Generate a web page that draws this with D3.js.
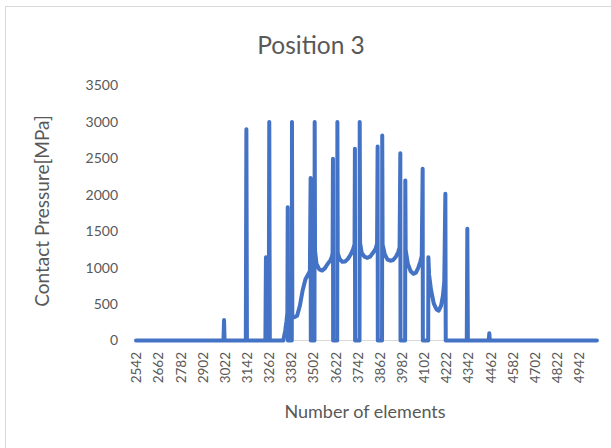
<!DOCTYPE html>
<html>
<head>
<meta charset="utf-8">
<script src="https://cdn.jsdelivr.net/npm/d3@7"></script>
<style>
  html, body { margin: 0; padding: 0; background: #ffffff; }
  svg { display: block; }
  text { font-family: Lato, "Open Sans", sans-serif; fill: #595959; }
</style>
</head>
<body>
<svg id="chart" width="611" height="448"></svg>
<script>
// Contact pressure along the element numbering (position 3)
const elements = [
  2542, 3016, 3019, 3022, 3137, 3140, 3143,
  3243, 3246, 3250, 3261, 3264, 3267,
  3340, 3350, 3357, 3362, 3364, 3365, 3386, 3387,
  3389, 3400, 3415, 3430, 3445, 3460, 3475, 3484, 3488, 3489, 3509, 3510,
  3512, 3520, 3535, 3550, 3565, 3580, 3595, 3603, 3607, 3609, 3610, 3632, 3633,
  3635, 3645, 3660, 3675, 3690, 3705, 3718, 3726, 3728, 3729, 3753, 3754,
  3756, 3765, 3780, 3795, 3810, 3825, 3840, 3848, 3851, 3852, 3875, 3876,
  3878, 3890, 3905, 3920, 3935, 3950, 3962, 3970, 3974, 3975, 4000, 4001,
  4003, 4015, 4030, 4045, 4058, 4070, 4082, 4090, 4095, 4096, 4125, 4126,
  4130, 4140, 4155, 4170, 4182, 4195, 4205, 4212, 4218, 4220,
  4334, 4337, 4340, 4453, 4456, 4459, 5039
];
const pressure = [
  0, 0, 280, 0, 0, 2900, 0,
  0, 1143, 0, 0, 3000, 0,
  0, 130, 260, 380, 1830, 0, 0, 3000,
  330, 320, 340, 480, 690, 840, 910, 950, 2230, 0, 0, 3000,
  1230, 1050, 975, 960, 990, 1050, 1100, 1150, 1200, 2494, 0, 0, 3000,
  1200, 1120, 1080, 1085, 1120, 1180, 1250, 1320, 2631, 0, 0, 3000,
  1340, 1200, 1150, 1135, 1150, 1200, 1260, 1330, 2663, 0, 0, 2813,
  1320, 1180, 1110, 1095, 1105, 1150, 1210, 1280, 2571, 0, 0, 2196,
  1240, 1050, 950, 915, 930, 990, 1080, 1160, 2356, 0, 0, 1143,
  900, 700, 510, 425, 410, 480, 620, 800, 2013, 0,
  0, 1533, 0, 0, 100, 0, 0
];
const xTickLabels = [2542, 2662, 2782, 2902, 3022, 3142, 3262, 3382, 3502, 3622,
  3742, 3862, 3982, 4102, 4222, 4342, 4462, 4582, 4702, 4822, 4942];
const yTicks = [0, 500, 1000, 1500, 2000, 2500, 3000, 3500];

const chartTitle = "Position 3";
const yTitle = "Contact Pressure[MPa]";
const xTitle = "Number of elements";

const svg = d3.select("#chart");

// chart area frame
svg.append("rect")
  .attr("x", 5.5).attr("y", 6.5)
  .attr("width", 620).attr("height", 460)
  .attr("fill", "#ffffff")
  .attr("stroke", "#d9d9d9").attr("stroke-width", 1);

const x = d3.scaleLinear().domain([2542, 4942]).range([136, 579]);
const y = d3.scaleLinear().domain([0, 3500]).range([340.5, 85.5]);

// title
svg.append("text")
  .attr("x", 311).attr("y", 54)
  .attr("text-anchor", "middle")
  .style("font-size", "24.5px")
  .style("font-weight", 400)
  .text(chartTitle);

// y axis labels
const yAxis = d3.axisLeft(y).tickValues(yTicks).tickSize(0).tickPadding(0)
  .tickFormat(d3.format("d"));
const gy = svg.append("g").attr("transform", "translate(118,0)").call(yAxis);
gy.select(".domain").remove();
gy.selectAll("text")
  .style("font-size", "14px")
  .style("font-family", "Lato, sans-serif")
  .attr("fill", "#595959");

// x axis line and rotated category labels
svg.append("line")
  .attr("x1", x(2542) - 1).attr("x2", x(5039) + 1)
  .attr("y1", y(0)).attr("y2", y(0))
  .attr("stroke", "#d9d9d9").attr("stroke-width", 1);

const xAxis = d3.axisBottom(x).tickValues(xTickLabels).tickSize(0).tickPadding(0)
  .tickFormat(d3.format("d"));
const gx = svg.append("g").attr("transform", "translate(0,352)").call(xAxis);
gx.select(".domain").remove();
gx.selectAll("text")
  .style("font-size", "13.5px")
  .style("font-family", "Lato, sans-serif")
  .attr("fill", "#595959")
  .attr("text-anchor", "end")
  .attr("dy", "0.35em")
  .attr("y", 0)
  .attr("transform", "rotate(-90)");

// axis titles
svg.append("text")
  .attr("transform", "translate(49,211) rotate(-90)")
  .attr("text-anchor", "middle")
  .style("font-size", "19px")
  .text(yTitle);

svg.append("text")
  .attr("x", 365).attr("y", 418)
  .attr("text-anchor", "middle")
  .style("font-size", "18px")
  .text(xTitle);

// pressure line
const pts = elements.map((e, i) => [e, pressure[i]]);
const line = d3.line().x(d => x(d[0])).y(d => y(d[1])).curve(d3.curveLinear);
svg.append("path")
  .datum(pts)
  .attr("d", line)
  .attr("fill", "none")
  .attr("stroke", "#4472c4")
  .attr("stroke-width", 4)
  .attr("stroke-linejoin", "round")
  .attr("stroke-linecap", "round");
</script>
</body>
</html>
